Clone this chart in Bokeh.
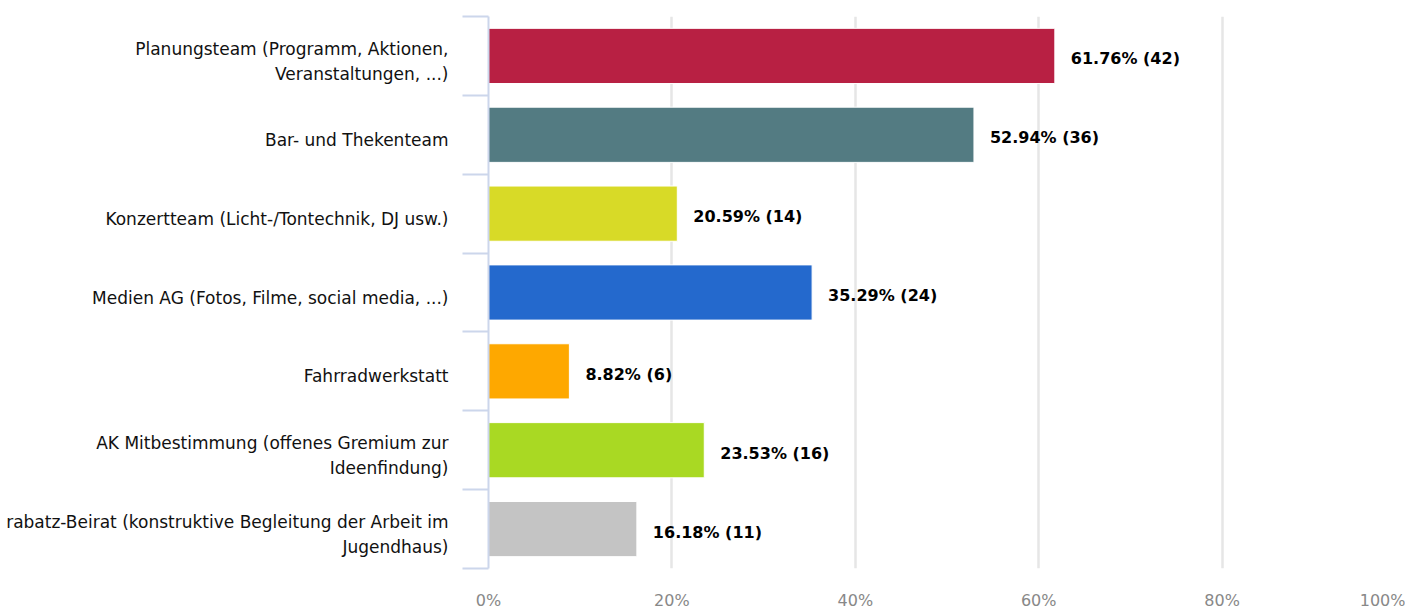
from bokeh.plotting import figure
from bokeh.models import Range1d, FixedTicker
from bokeh.core.properties import value
from bokeh.embed import file_html
from bokeh.resources import INLINE

categories = [
    "Planungsteam (Programm, Aktionen,\nVeranstaltungen, ...)",
    "Bar- und Thekenteam",
    "Konzertteam (Licht-/Tontechnik, DJ usw.)",
    "Medien AG (Fotos, Filme, social media, ...)",
    "Fahrradwerkstatt",
    "AK Mitbestimmung (offenes Gremium zur\nIdeenfindung)",
    "rabatz-Beirat (konstruktive Begleitung der Arbeit im\nJugendhaus)",
]
percents = [61.76, 52.94, 20.59, 35.29, 8.82, 23.53, 16.18]
counts = [42, 36, 14, 24, 6, 16, 11]
colors = ["#b82043", "#537b82", "#d8da27", "#2469cd", "#fea800", "#a9d923", "#c4c4c4"]
x_ticks = [0, 20, 40, 60, 80, 100]

n = len(categories)
ypos = list(range(n))
labels = [f"{v:.2f}% ({c})" for v, c in zip(percents, counts)]

FONT = "DejaVu Sans"
W, H = 1405, 612

p = figure(width=W, height=H, output_backend="svg", toolbar_location=None,
           x_range=Range1d(0, 100), y_range=Range1d(n - 0.5, -0.5),
           min_border_left=488, min_border_top=16, min_border_bottom=44, min_border_right=0)
p.outline_line_color = None
p.background_fill_color = "white"

# grid
p.ygrid.visible = False
p.xgrid.ticker = FixedTicker(ticks=[20, 40, 60, 80])
p.xgrid.grid_line_color = "#e6e6e6"
p.xgrid.grid_line_width = 2.5

# bars
p.hbar(y=ypos, left=0, right=percents, height=0.70, fill_color=colors,
       line_color="white", line_width=1)

# value labels
p.text(x=percents, y=ypos, text=labels, x_offset=16, y_offset=3, text_baseline="middle",
       text_align="left", text_font=value(FONT), text_font_style="bold",
       text_font_size="16px", text_color="#000000")

# x axis
xa = p.xaxis[0]
xa.ticker = FixedTicker(ticks=x_ticks)
xa.major_label_overrides = {t: f"{t}%" for t in x_ticks}
xa.axis_line_color = None
xa.major_tick_line_color = None
xa.minor_tick_line_color = None
xa.major_tick_out = 0
xa.major_label_text_font = FONT
xa.major_label_text_font_size = "16px"
xa.major_label_text_color = "#888888"
xa.major_label_standoff = 22

# y axis: labels sit slightly below band centres, ticks at band boundaries
label_pos = [round(i + 0.065, 3) for i in ypos]
ya = p.yaxis[0]
ya.ticker = FixedTicker(ticks=label_pos, minor_ticks=[i - 0.5 for i in range(n + 1)])
ya.major_label_overrides = {lp: categories[i] for i, lp in enumerate(label_pos)}
ya.axis_line_color = "#ccd6eb"
ya.axis_line_width = 2
ya.major_tick_line_color = None
ya.major_tick_out = 0
ya.major_tick_in = 0
ya.minor_tick_line_color = "#ccd6eb"
ya.minor_tick_line_width = 2
ya.minor_tick_out = 26
ya.minor_tick_in = 0
ya.major_label_text_font = FONT
ya.major_label_text_font_size = "17px"
ya.major_label_text_color = "#111111"
ya.major_label_text_line_height = 1.25
ya.major_label_standoff = 14

open("out.html", "w").write(file_html(p, INLINE))
